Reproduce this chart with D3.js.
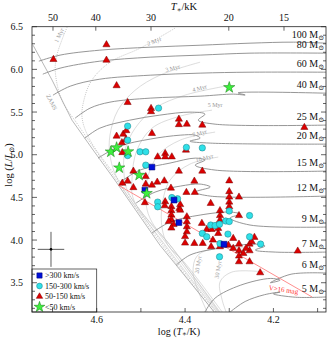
<!DOCTYPE html>
<html><head><meta charset="utf-8">
<script src="https://cdn.jsdelivr.net/npm/d3@7"></script>
<style>body{margin:0;background:#fff}svg{display:block}text{font-family:"Liberation Serif","DejaVu Serif",serif}</style>
</head><body><svg id="c" width="327" height="338"></svg>
<script>
// ---- axes ----
const xTickVals = [4.6, 4.4, 4.2];
const yTickVals = [3.5, 4.0, 4.5, 5.0, 5.5, 6.0, 6.5];
const topTickVals = [50, 40, 30, 20, 15];

// ---- evolutionary tracks [logT, logL] ----
const track100 = [[4.731,6.096],[4.683,6.167],[4.593,6.225],[4.479,6.260],[4.366,6.283],[4.253,6.307],[4.155,6.319],[4.081,6.307]];
const track80 = [[4.722,5.944],[4.683,6.014],[4.593,6.096],[4.479,6.143],[4.366,6.167],[4.253,6.190],[4.081,6.190]];
const track60 = [[4.699,5.698],[4.660,5.803],[4.593,5.885],[4.479,5.932],[4.366,5.956],[4.253,5.967],[4.081,5.967]];
const track40 = [[4.649,5.428],[4.615,5.546],[4.570,5.616],[4.479,5.663],[4.366,5.686],[4.291,5.710],[4.264,5.700],[4.280,5.725],[4.081,5.721]];
const track25 = [[4.627,5.194],[4.593,5.311],[4.525,5.405],[4.457,5.464],[4.389,5.499],[4.355,5.476],[4.370,5.405],[4.332,5.358],[4.081,5.347]];
const track20 = [[4.597,4.960],[4.547,5.101],[4.479,5.183],[4.411,5.229],[4.377,5.229],[4.366,5.194],[4.389,5.159],[4.343,5.136],[4.081,5.124]];
const track15 = [[4.547,4.679],[4.502,4.820],[4.434,4.902],[4.377,4.960],[4.355,4.937],[4.377,4.878],[4.332,4.820],[4.081,4.808]];
const track12 = [[4.511,4.433],[4.468,4.562],[4.411,4.632],[4.366,4.656],[4.343,4.621],[4.377,4.562],[4.343,4.515],[4.081,4.515]];
const track9 = [[4.475,4.082],[4.434,4.211],[4.366,4.293],[4.298,4.328],[4.275,4.304],[4.298,4.258],[4.253,4.176],[4.081,4.152]];
const track7 = [[4.420,3.707],[4.389,3.824],[4.321,3.906],[4.241,3.953],[4.219,3.930],[4.241,3.883],[4.196,3.859],[4.081,3.859]];
const track6 = [[4.355,3.157],[4.332,3.320],[4.275,3.470],[4.207,3.550],[4.185,3.530],[4.207,3.500],[4.160,3.600],[4.081,3.614]];
const track5 = [[4.298,3.157],[4.264,3.280],[4.220,3.360],[4.185,3.390],[4.200,3.370],[4.150,3.330],[4.081,3.333]];
const trackMasses = ["100","80","60","40","25","20","15","12","9","7","6","5"];
const trackList = [track100,track80,track60,track40,track25,track20,track15,track12,track9,track7,track6,track5];

// ---- isochrones ----
const zams = [[4.744,6.283],[4.701,5.874],[4.656,5.405],[4.608,5.054],[4.559,4.703],[4.457,3.941],[4.334,3.157]];
const iso1 = [[4.667,6.494],[4.679,6.342],[4.690,6.167],[4.694,5.991],[4.679,5.639],[4.642,5.347],[4.552,4.679],[4.452,3.941],[4.334,3.157]];
const iso2 = [[4.423,6.482],[4.502,6.248],[4.570,6.084],[4.611,5.874],[4.629,5.639],[4.633,5.428],[4.615,5.171],[4.547,4.679],[4.448,3.941],[4.330,3.157]];
const iso3 = [[4.366,6.084],[4.457,5.932],[4.513,5.756],[4.552,5.522],[4.570,5.229],[4.570,4.995],[4.552,4.703],[4.445,3.941],[4.328,3.157]];
const iso4 = [[4.309,5.803],[4.400,5.698],[4.468,5.546],[4.513,5.311],[4.536,5.054],[4.538,4.761],[4.529,4.562],[4.439,3.941],[4.325,3.157]];
const iso5 = [[4.339,5.522],[4.411,5.452],[4.475,5.311],[4.509,5.054],[4.520,4.726],[4.516,4.468],[4.434,3.941],[4.323,3.157]];
const iso7 = [[4.332,5.265],[4.411,5.171],[4.461,4.995],[4.486,4.703],[4.488,4.410],[4.475,4.211],[4.425,3.883],[4.321,3.157]];
const iso10 = [[4.325,4.972],[4.389,4.890],[4.434,4.703],[4.452,4.410],[4.452,4.140],[4.439,3.941],[4.402,3.742],[4.316,3.157]];
const iso20 = [[4.264,3.906],[4.332,3.906],[4.373,3.812],[4.382,3.625],[4.371,3.415],[4.350,3.157]];
const iso30 = [[4.219,3.625],[4.294,3.625],[4.321,3.508],[4.316,3.297],[4.307,3.157]];
const isoList = [iso1,iso2,iso3,iso4,iso5,iso7,iso10,iso20,iso30];
const isoNames = ["1 Myr","2 Myr","3 Myr","4 Myr","5 Myr","7 Myr","10 Myr","20 Myr","30 Myr"];
const isoLabelPos = [[4.681,6.389],[4.468,6.307],[4.427,5.991],[4.366,5.756],[4.332,5.557],[4.366,5.229],[4.355,4.937],[4.366,3.707],[4.321,3.649]];
const isoLabelAngle = [-65,-20,-15,-15,0,-15,-15,-80,-80];

// ---- magnitude limit line ----
const magLimit = [[4.5515,4.644],[4.1125,3.333]];

// ---- stars by v sin i ----
const greenStars = [[4.300,5.788],[4.568,5.034],[4.555,5.083],[4.529,5.036],[4.549,4.847],[4.504,4.761],[4.487,4.547]];
const blueSquares = [[4.475,4.855],[4.491,4.586],[4.425,4.468],[4.414,4.205],[4.312,3.951]];
const cyanCircles = [[4.460,5.546],[4.530,5.335],[4.530,5.171],[4.530,4.990],[4.502,5.034],[4.489,5.034],[4.397,5.086],[4.361,5.080],
 [4.489,4.878],[4.462,4.445],[4.462,4.390],[4.430,4.498],[4.417,4.484],[4.300,4.340],[4.254,4.287],[4.361,4.078],[4.351,4.039],
 [4.342,4.176],[4.332,4.170],[4.322,4.185],[4.308,4.223],[4.300,4.217],[4.303,4.070],[4.321,3.959],[4.254,4.039],[4.229,3.953],[4.322,3.804]];
const redTriangles = [[4.578,6.289],[4.578,6.108],[4.698,6.116],[4.555,5.809],[4.530,5.612],[4.477,5.542],[4.477,5.505],[4.414,5.417],
 [4.414,5.353],[4.396,5.358],[4.361,5.347],[4.130,5.320],[4.475,5.249],[4.555,5.218],[4.540,5.241],[4.533,5.282],[4.543,5.142],
 [4.534,5.177],[4.542,5.025],[4.462,4.975],[4.445,5.015],[4.445,4.975],[4.430,4.975],[4.398,5.054],[4.517,4.808],[4.414,4.808],
 [4.361,4.808],[4.489,4.744],[4.530,4.691],[4.542,4.667],[4.517,4.615],[4.489,4.656],[4.475,4.644],[4.447,4.694],[4.379,4.691],
 [4.300,4.694],[4.432,4.609],[4.397,4.559],[4.378,4.559],[4.491,4.439],[4.445,4.449],[4.446,4.402],[4.413,4.371],[4.431,4.392],
 [4.431,4.345],[4.431,4.293],[4.431,4.240],[4.437,4.217],[4.426,4.182],[4.431,4.141],[4.411,4.416],[4.411,4.351],[4.396,4.273],
 [4.396,4.214],[4.396,4.156],[4.396,4.097],[4.400,4.041],[4.400,3.965],[4.300,4.568],[4.300,4.504],[4.300,4.445],[4.300,4.392],
 [4.278,4.504],[4.342,4.430],[4.321,4.345],[4.321,4.287],[4.321,4.234],[4.329,4.164],[4.278,4.287],[4.362,4.196],[4.351,4.125],
 [4.340,4.125],[4.325,4.078],[4.360,3.961],[4.379,3.961],[4.341,3.922],[4.337,4.000],[4.321,3.922],[4.302,3.941],[4.291,4.020],
 [4.291,3.903],[4.278,3.953],[4.278,3.875],[4.278,3.813],[4.278,3.746],[4.268,3.844],[4.254,3.953],[4.254,3.875],[4.254,3.746],
 [4.249,3.980],[4.243,4.032],[4.262,3.903],[4.230,3.617],[4.145,3.871],[4.325,4.137],[4.463,4.679]];

// ---- error bar ----
const errCenter = [4.7035, 3.891];
const errSize = [0.030, 0.205];

// ---- legend ----
const legendLabels = [">300 km/s","150-300 km/s","50-150 km/s","<50 km/s"];

const W=327,H=338, L0=32, R0=326, T0=26.7, B0=312;
const svg = d3.select("#c");
const x = d3.scaleLinear().domain([4.7465,4.081]).range([L0,R0]);
const y = d3.scaleLinear().domain([3.157,6.5]).range([B0,T0]);

svg.append("defs").append("clipPath").attr("id","clip").append("rect")
  .attr("x",L0).attr("y",T0).attr("width",R0-L0).attr("height",B0-T0);
const plot = svg.append("g").attr("clip-path","url(#clip)");
const line = d3.line().x(d=>x(d[0])).y(d=>y(d[1])).curve(d3.curveCatmullRom.alpha(0.5));

// isochrones
isoList.forEach((iso,i)=>{
  plot.append("path").attr("d",line(iso)).attr("fill","none")
    .attr("stroke", i<2 ? "#9a9a9a" : "#c4c4c4").attr("stroke-width",0.6)
    .attr("stroke-dasharray", i<2 ? "1,1.2" : null);
});
plot.append("path").attr("d",d3.line().x(d=>x(d[0])).y(d=>y(d[1]))(zams)).attr("fill","none").attr("stroke","#999").attr("stroke-width",0.7);
// tracks
trackList.forEach(t=>{
  plot.append("path").attr("d",line(t)).attr("fill","none").attr("stroke","#8a8a8a").attr("stroke-width",0.9);
});
// isochrone labels
isoNames.forEach((n,i)=>{
  const p=isoLabelPos[i];
  plot.append("text").attr("transform",`translate(${x(p[0])},${y(p[1])}) rotate(${isoLabelAngle[i]})`)
    .attr("text-anchor","middle").attr("font-size",6).attr("fill","#999").text(n);
});
plot.append("text").attr("transform",`translate(${x(4.706)},${y(5.604)}) rotate(62)`)
    .attr("text-anchor","middle").attr("font-size",6).attr("fill","#999").text("ZAMS");

// magnitude line
plot.append("path").attr("d",d3.line().x(d=>x(d[0])).y(d=>y(d[1]))(magLimit)).attr("stroke","#ff7070").attr("stroke-width",0.8).attr("fill","none");
plot.append("text").attr("transform",`translate(${x(4.178)},${y(3.391)}) rotate(8)`).attr("text-anchor","middle")
  .attr("font-size",7).attr("fill","#ff3030").text("V>16 mag");

// error bar
const ex=x(errCenter[0]), ey=y(errCenter[1]);
plot.append("line").attr("x1",x(errCenter[0]-errSize[0])).attr("x2",x(errCenter[0]+errSize[0])).attr("y1",ey).attr("y2",ey).attr("stroke","#333").attr("stroke-width",0.8);
plot.append("line").attr("y1",y(errCenter[1]-errSize[1])).attr("y2",y(errCenter[1]+errSize[1])).attr("x1",ex).attr("x2",ex).attr("stroke","#333").attr("stroke-width",0.8);
plot.append("circle").attr("cx",ex).attr("cy",ey).attr("r",1.3).attr("fill","#000");

// markers
const sym = (type,size)=>d3.symbol().type(type).size(size)();
function drawPts(data,type,size,fill,stroke){
  plot.selectAll(null).data(data).enter().append("path")
    .attr("transform",d=>`translate(${x(d[0])},${y(d[1])})`)
    .attr("d",sym(type,size)).attr("fill",fill).attr("stroke",stroke).attr("stroke-width",0.5);
}
drawPts(redTriangles,d3.symbolTriangle,22,"#dd0000","#7a0000");
drawPts(cyanCircles,d3.symbolCircle,32,"#2fe0e8","#1a7f86");
drawPts(blueSquares,d3.symbolSquare,34,"#0010d8","#000070");
drawPts(greenStars,d3.symbolStar,40,"#3ef03e","#137a13");

// mass labels
trackList.forEach((t,i)=>{
  const last=t[t.length-1];
  const tx = plot.append("text").attr("x",R0-2).attr("y",y(last[1])-5).attr("text-anchor","end").attr("font-size",10).attr("fill","#111");
  tx.append("tspan").text(trackMasses[i]+" M");
  tx.append("tspan").attr("font-size",7).attr("dy",2).text("⊙");
});

// legend
const lg = svg.append("g");
lg.append("rect").attr("x",L0).attr("y",269).attr("width",x(4.6)-L0).attr("height",B0-269).attr("fill","#fff").attr("stroke","#222").attr("stroke-width",0.7);
const legSyms=[[d3.symbolSquare,28,"#0010d8","#000070"],[d3.symbolCircle,26,"#2fe0e8","#1a7f86"],[d3.symbolTriangle,18,"#dd0000","#7a0000"],[d3.symbolStar,36,"#3ef03e","#137a13"]];
legendLabels.forEach((l,i)=>{
  const yy=275.5+i*10.5;
  lg.append("path").attr("transform",`translate(39.5,${yy})`).attr("d",sym(legSyms[i][0],legSyms[i][1])).attr("fill",legSyms[i][2]).attr("stroke",legSyms[i][3]).attr("stroke-width",0.5);
  lg.append("text").attr("x",45).attr("y",yy+2.8).attr("font-size",8).attr("fill","#111").text(l);
});

// frame
svg.append("rect").attr("x",L0).attr("y",T0).attr("width",R0-L0).attr("height",B0-T0).attr("fill","none").attr("stroke","#222").attr("stroke-width",0.8);

// ticks
const ax = svg.append("g").attr("stroke","#222").attr("stroke-width",0.7);
d3.range(4.1,4.75,0.1).forEach(v=>{
  const xx=x(v);
  ax.append("line").attr("x1",xx).attr("x2",xx).attr("y1",B0).attr("y2",B0-4);
});
d3.range(3.2,6.55,0.1).forEach(v=>{
  const yy=y(v); const major=Math.abs(v*2-Math.round(v*2))<1e-6;
  ax.append("line").attr("x1",L0).attr("x2",L0+(major?5:3)).attr("y1",yy).attr("y2",yy);
  ax.append("line").attr("x1",R0).attr("x2",R0-(major?5:3)).attr("y1",yy).attr("y2",yy);
});
topTickVals.forEach(v=>{
  const xx=x(Math.log10(v*1000));
  ax.append("line").attr("x1",xx).attr("x2",xx).attr("y1",T0).attr("y2",T0+4);
});
xTickVals.forEach(v=>{
  svg.append("text").attr("x",x(v)).attr("y",323).attr("text-anchor","middle").attr("font-size",10).attr("fill","#111").text(v.toFixed(1));
});
yTickVals.forEach(v=>{
  svg.append("text").attr("x",23).attr("y",y(v)+3.5).attr("text-anchor","end").attr("font-size",10).attr("fill","#111").text(v.toFixed(1));
});
topTickVals.forEach(v=>{
  svg.append("text").attr("x",x(Math.log10(v*1000))).attr("y",21).attr("text-anchor","middle").attr("font-size",10).attr("fill","#111").text(v);
});
// titles
const bt = svg.append("text").attr("x",179).attr("y",334.5).attr("text-anchor","middle").attr("font-size",10).attr("fill","#111");
bt.append("tspan").text("log (");
bt.append("tspan").attr("font-style","italic").text("T");
bt.append("tspan").attr("font-size",7).attr("dy",1.2).text("∗");
bt.append("tspan").attr("dy",-1.2).text("/K)");
const tt = svg.append("text").attr("x",184).attr("y",10).attr("text-anchor","middle").attr("font-size",10.5).attr("fill","#111");
tt.append("tspan").attr("font-style","italic").text("T");
tt.append("tspan").attr("font-size",7).attr("dy",1.5).text("∗");
tt.append("tspan").attr("dy",-1.5).text("/kK");
const lt = svg.append("text").attr("transform","translate(12,165) rotate(-90)").attr("text-anchor","middle").attr("font-size",10.5).attr("fill","#111");
lt.append("tspan").text("log (");
lt.append("tspan").attr("font-style","italic").text("L");
lt.append("tspan").text("/");
lt.append("tspan").attr("font-style","italic").text("L");
lt.append("tspan").attr("font-size",7).attr("dy",1.5).text("⊙");
lt.append("tspan").attr("dy",-1.5).text(")");
</script></body></html>
